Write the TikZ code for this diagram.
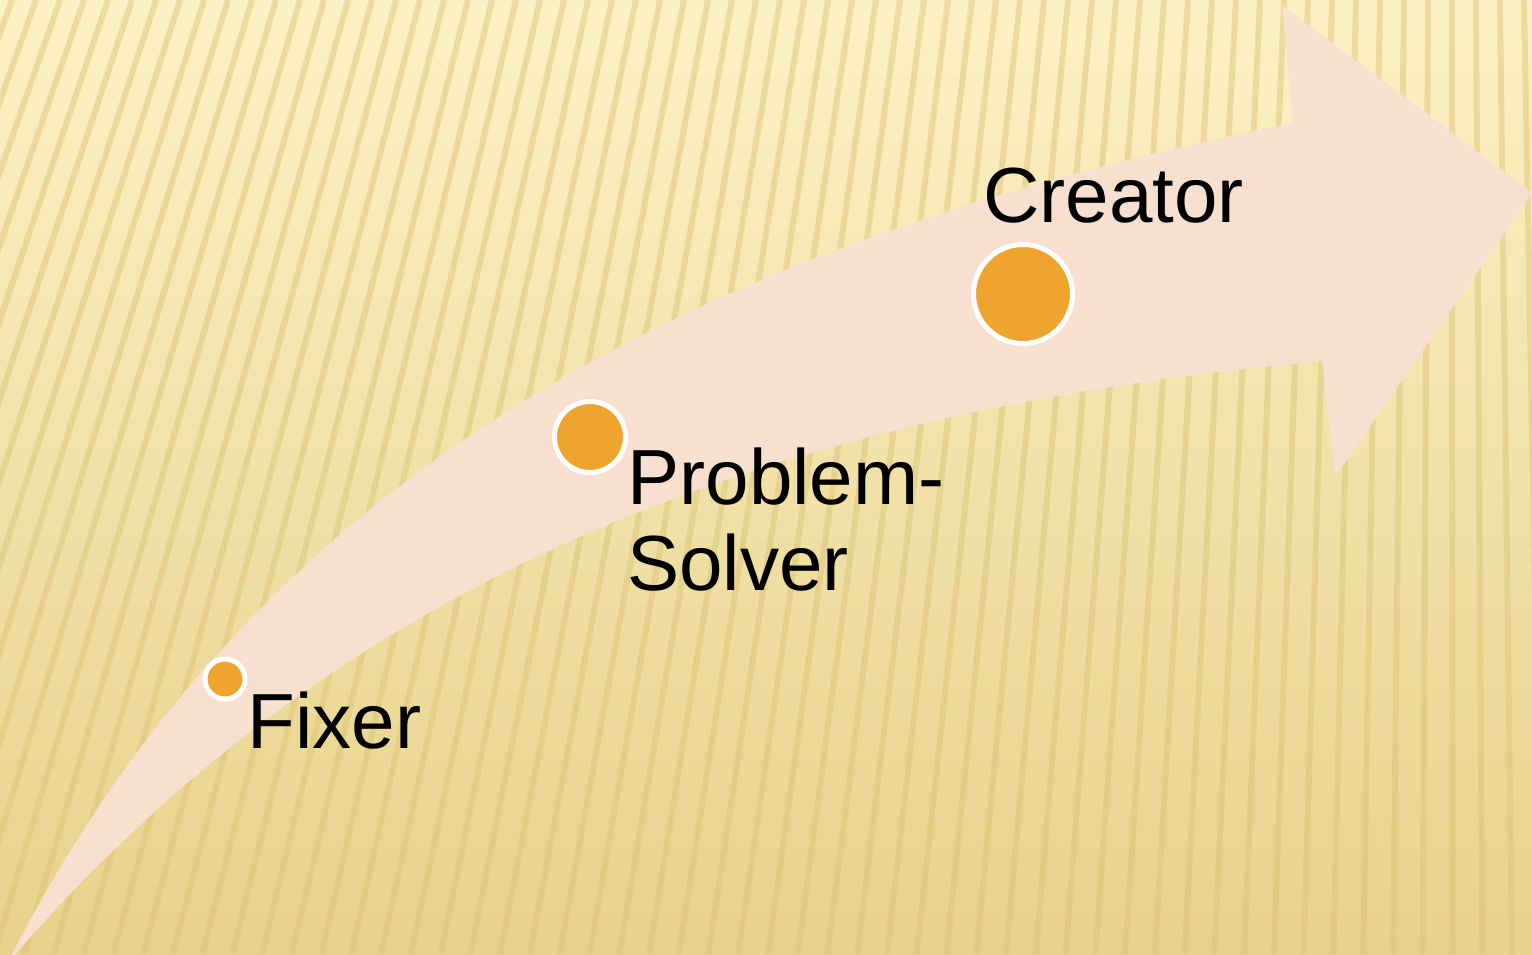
\documentclass[tikz,border=0pt]{standalone}
\usepackage{fontspec}
\setmainfont{Liberation Sans}
\usepackage{xcolor}
\usetikzlibrary{positioning}

\definecolor{bgtop}{HTML}{FCF1C4}
\definecolor{bgbot}{HTML}{E7D28C}
\definecolor{stripecol}{HTML}{D9BC6A}
\definecolor{arrowfill}{HTML}{F7E0CF}
\definecolor{dotfill}{HTML}{EFA430}

\begin{document}
\begin{tikzpicture}[
  x=0.02cm, y=-0.02cm,
  stripe/.style={draw=stripecol, line width=0.12cm, opacity=0.4},
  dot/.style={circle, fill=dotfill, draw=white, line width=0.1cm, inner sep=0pt},
  lbl/.style={font=\fontsize{44.5}{48.5}\selectfont, inner sep=0pt, align=left, anchor=base west},
]

% background
\fill[top color=bgtop, bottom color=bgbot] (0,0) rectangle (1532,954);
\useasboundingbox (0,0) rectangle (1532,954);
\begin{scope}
  \clip (0,0) rectangle (1532,954);
  \foreach \x in {-420,-396,...,1620}
    \draw[stripe] (\x,0) -- ({\x-0.24*(1450-\x)},954);
\end{scope}

% curved arrow
\fill[arrowfill] (10,958) .. controls (242,505) and (643,253) .. (1293,123)
  -- (1282,5) -- (1532,193) -- (1335,477) -- (1322,361)
  .. controls (772,411) and (343,575) .. (12,958) -- cycle;

% stages
\node[dot, minimum size=0.8cm]  (fixdot)  at (225,679) {};
\node[dot, minimum size=1.42cm] (probdot) at (590,437) {};
\node[dot, minimum size=1.98cm] (creadot) at (1023,294) {};

\node[lbl] (fixer)   at (247,748) {Fixer};
\node[lbl] (solver)  at (627,590) {Problem-\\Solver};
\node[lbl] (creator) at (983,222) {Creator};

\end{tikzpicture}
\end{document}
